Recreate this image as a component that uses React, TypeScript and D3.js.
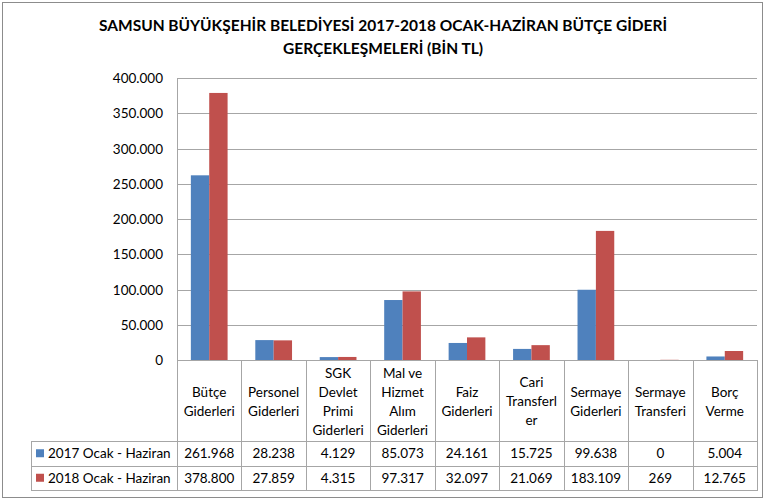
import React from "react";
import * as d3 from "d3";

const titleLines = [
  "SAMSUN BÜYÜKŞEHİR BELEDİYESİ 2017-2018 OCAK-HAZİRAN BÜTÇE GİDERİ",
  "GERÇEKLEŞMELERİ (BİN TL)",
];
const categoryLines: string[][] = [
  ["Bütçe", "Giderleri"],
  ["Personel", "Giderleri"],
  ["SGK", "Devlet", "Primi", "Giderleri"],
  ["Mal ve", "Hizmet", "Alım", "Giderleri"],
  ["Faiz", "Giderleri"],
  ["Cari", "Transferl", "er"],
  ["Sermaye", "Giderleri"],
  ["Sermaye", "Transferi"],
  ["Borç", "Verme"],
];
const seriesNames = ["2017 Ocak - Haziran", "2018 Ocak - Haziran"];
const values2017 = [261968, 28238, 4129, 85073, 24161, 15725, 99638, 0, 5004];
const values2018 = [378800, 27859, 4315, 97317, 32097, 21069, 183109, 269, 12765];
const yTicks = [0, 50000, 100000, 150000, 200000, 250000, 300000, 350000, 400000];
const colors = ["#4F81BD", "#C0504D"];

const W = 765;
const H = 501;
const FONT = "Lato, 'Open Sans', sans-serif";
const FS = 13.5;

export default function App() {
  const categories = categoryLines.map((l) => l.join(" "));
  const seriesValues = [values2017, values2018];
  const locale = d3.formatLocale({
    decimal: ",",
    thousands: ".",
    grouping: [3],
    currency: ["", ""],
  });
  const fmt = locale.format(",.0f");

  const plotLeft = 177;
  const plotRight = 757;
  const plotTop = 78;
  const plotBottom = 360;
  const labelBottom = 441;
  const row1Bottom = 465.5;
  const row2Bottom = 490;
  const legendLeft = 31;

  const x0 = d3.scaleBand<string>().domain(categories).range([plotLeft, plotRight]).padding(0);
  const step = x0.bandwidth();
  const x1 = d3
    .scaleBand<number>()
    .domain([0, 1])
    .range([step * 0.215, step * 0.785])
    .padding(0);
  const y = d3.scaleLinear().domain([0, 400000]).range([plotBottom, plotTop]);

  const gridColor = "#A6A6A6";
  const rowTops = [labelBottom, row1Bottom];
  const rowBottoms = [row1Bottom, row2Bottom];

  return (
    <svg
      width={W}
      height={H}
      style={{ position: "absolute", left: 0, top: 0, background: "#fff" }}
      fontFamily={FONT}
    >
      <rect x={0} y={0} width={W} height={H} fill="#fff" />
      <rect x={2.5} y={2.5} width={760} height={495} fill="none" stroke="#8C8C8C" strokeWidth={1} />

      {/* Title */}
      {titleLines.map((t, i) => (
        <text
          key={i}
          x={383}
          y={25 + i * 23}
          textAnchor="middle"
          dominantBaseline="central"
          fontWeight="bold"
          fontSize={15.5}
          fill="#000"
        >
          {t}
        </text>
      ))}

      {/* Gridlines */}
      {yTicks.map((t) => (
        <line
          key={t}
          x1={plotLeft}
          x2={plotRight}
          y1={Math.round(y(t)) + 0.5}
          y2={Math.round(y(t)) + 0.5}
          stroke={gridColor}
          strokeWidth={1}
        />
      ))}
      {/* Y axis */}
      <line x1={plotLeft + 0.5} x2={plotLeft + 0.5} y1={plotTop} y2={plotBottom} stroke={gridColor} />
      {yTicks.map((t) => (
        <text
          key={"l" + t}
          x={163}
          y={y(t)}
          textAnchor="end"
          dominantBaseline="central"
          fontSize={FS}
          fill="#000"
        >
          {fmt(t)}
        </text>
      ))}

      {/* Bars */}
      {categories.map((c, ci) => (
        <g key={c} transform={`translate(${x0(c)},0)`}>
          {seriesValues.map((vals, si) => (
            <rect
              key={si}
              x={x1(si)}
              y={y(vals[ci])}
              width={x1.bandwidth()}
              height={plotBottom - y(vals[ci])}
              fill={colors[si]}
            />
          ))}
        </g>
      ))}

      {/* Table lines */}
      {categories.map((c) => (
        <line
          key={"v" + c}
          x1={Math.round(x0(c) as number) + 0.5}
          x2={Math.round(x0(c) as number) + 0.5}
          y1={plotBottom}
          y2={row2Bottom}
          stroke={gridColor}
        />
      ))}
      <line x1={plotRight + 0.5} x2={plotRight + 0.5} y1={plotBottom} y2={row2Bottom} stroke={gridColor} />
      <line x1={legendLeft + 0.5} x2={legendLeft + 0.5} y1={labelBottom} y2={row2Bottom} stroke={gridColor} />
      {[labelBottom, row1Bottom, row2Bottom].map((yy) => (
        <line
          key={"h" + yy}
          x1={legendLeft}
          x2={plotRight + 1}
          y1={Math.round(yy) + 0.5}
          y2={Math.round(yy) + 0.5}
          stroke={gridColor}
        />
      ))}

      {/* Category labels */}
      {categories.map((c, ci) => {
        const lines = categoryLines[ci];
        const lh = 19;
        const cy = (plotBottom + labelBottom) / 2 + 0.5;
        const startY = cy - ((lines.length - 1) * lh) / 2;
        return (
          <text
            key={"c" + c}
            x={(x0(c) as number) + step / 2}
            textAnchor="middle"
            dominantBaseline="central"
            fontSize={FS}
            fill="#000"
          >
            {lines.map((ln, li) => (
              <tspan key={li} x={(x0(c) as number) + step / 2} y={startY + li * lh}>
                {ln}
              </tspan>
            ))}
          </text>
        );
      })}

      {/* Legend column and values */}
      {seriesNames.map((s, si) => {
        const cy = (rowTops[si] + rowBottoms[si]) / 2;
        return (
          <g key={s}>
            <rect x={36} y={cy - 4} width={8} height={8} fill={colors[si]} />
            <text x={48} y={cy} dominantBaseline="central" fontSize={FS} fill="#000">
              {s}
            </text>
            {categories.map((c, ci) => (
              <text
                key={c}
                x={(x0(c) as number) + step / 2}
                y={cy}
                textAnchor="middle"
                dominantBaseline="central"
                fontSize={FS}
                fill="#000"
              >
                {fmt(seriesValues[si][ci])}
              </text>
            ))}
          </g>
        );
      })}
    </svg>
  );
}
